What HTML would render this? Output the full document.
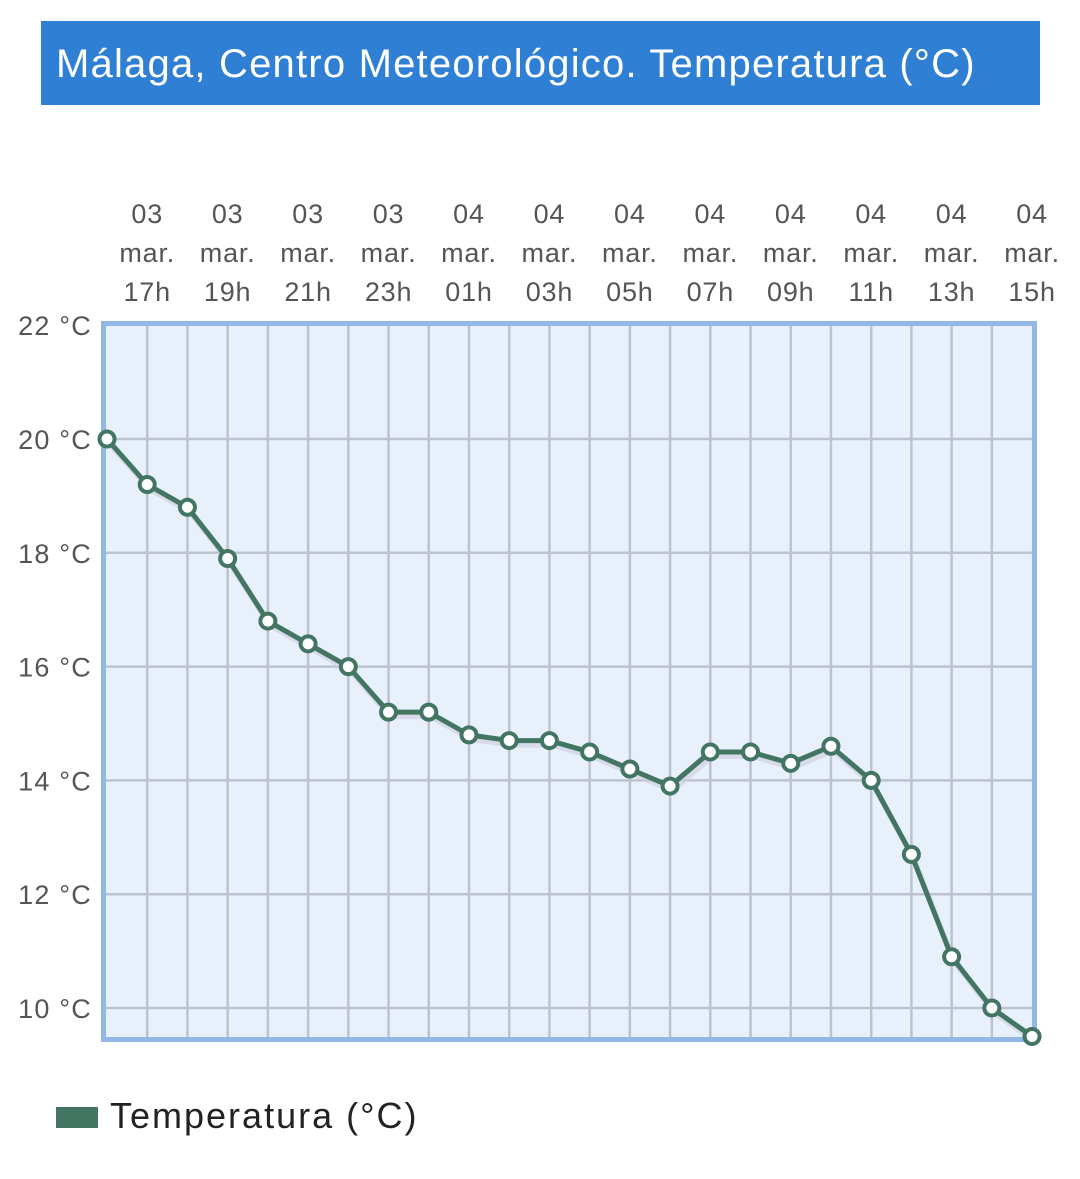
<!DOCTYPE html>
<html><head><meta charset="utf-8"><style>
body{margin:0;background:#fff;width:1080px;height:1179px;overflow:hidden;font-family:"Liberation Sans",sans-serif}
.t{position:absolute;left:41px;top:21px;width:999px;height:84px;background:#2f7fd4;color:#fff;font-size:40px;line-height:86px;padding-left:15px;box-sizing:border-box;letter-spacing:1.2px;white-space:nowrap}
</style></head><body>
<div class="t">Málaga, Centro Meteorológico. Temperatura (°C)</div>
<svg id="s" width="1080" height="1179" style="position:absolute;left:0;top:0"></svg>
<script>
var v=[20,19.2,18.8,17.9,16.8,16.4,16.0,15.2,15.2,14.8,14.7,14.7,14.5,14.2,13.9,14.5,14.5,14.3,14.6,14.0,12.7,10.9,10.0,9.5];
var X=i=>107+i*40.22, Y=t=>439+(20-t)*56.9;
var h='<rect x="103.5" y="323.5" width="931" height="716" fill="#e8f0fb" stroke="#94b8e6" stroke-width="5"/>';
for(var i=1;i<23;i++)h+='<line x1="'+X(i)+'" y1="326" x2="'+X(i)+'" y2="1037" stroke="#bcc3cf" stroke-width="2.5"/>';
for(var t=10;t<=20;t+=2)h+='<line x1="106" y1="'+Y(t)+'" x2="1032" y2="'+Y(t)+'" stroke="#bcc3cf" stroke-width="2.5"/>';
for(var t=10;t<=22;t+=2)h+='<text x="92" y="'+(Y(t)+10)+'" text-anchor="end" font-size="27" letter-spacing="1.2" fill="#555" font-family="Liberation Sans">'+t+' °C</text>';
var d=['03','03','03','03','04','04','04','04','04','04','04','04'],hr=['17h','19h','21h','23h','01h','03h','05h','07h','09h','11h','13h','15h'];
for(var k=0;k<12;k++){var x=X(1+2*k);h+='<text text-anchor="middle" font-size="27" letter-spacing="0.8" fill="#555" font-family="Liberation Sans"><tspan x="'+x+'" y="223">'+d[k]+'</tspan><tspan x="'+x+'" y="262">mar.</tspan><tspan x="'+x+'" y="301">'+hr[k]+'</tspan></text>';}
var p=v.map((t,i)=>X(i)+','+Y(t)).join(' ');
h+='<polyline points="'+p+'" fill="none" stroke="#ccd" stroke-width="6" transform="translate(2,4)" opacity="0.6"/>';
h+='<polyline points="'+p+'" fill="none" stroke="#437563" stroke-width="5" stroke-linejoin="round"/>';
v.forEach((t,i)=>{h+='<circle cx="'+X(i)+'" cy="'+Y(t)+'" r="7.5" fill="#fff" stroke="#437563" stroke-width="4"/>';});
h+='<rect x="56" y="1107" width="42" height="21" fill="#437563"/><text x="110" y="1128" font-size="36" letter-spacing="2" fill="#222" font-family="Liberation Sans">Temperatura (°C)</text>';
document.getElementById('s').innerHTML=h;
</script>
</body></html>
